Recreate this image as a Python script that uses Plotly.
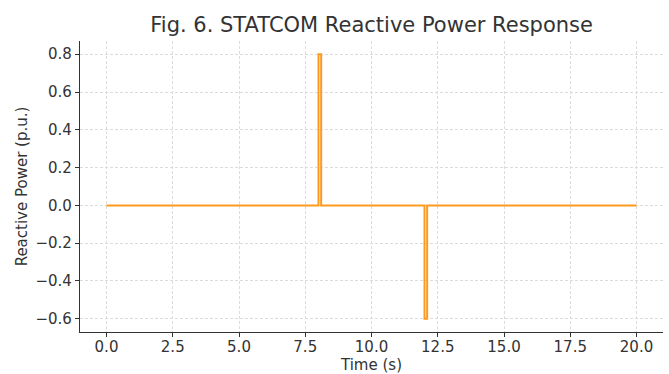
import plotly.graph_objects as go

time_s = [0.0, 8.0, 8.1, 12.0, 12.1, 20.0]
q_pu = [0.0, 0.8, 0.0, -0.6, 0.0, 0.0]
x_ticks = [0.0, 2.5, 5.0, 7.5, 10.0, 12.5, 15.0, 17.5, 20.0]
x_labels = ["0.0", "2.5", "5.0", "7.5", "10.0", "12.5", "15.0", "17.5", "20.0"]
y_ticks = [-0.6, -0.4, -0.2, 0.0, 0.2, 0.4, 0.6, 0.8]
y_labels = ["\u22120.6", "\u22120.4", "\u22120.2", "0.0", "0.2", "0.4", "0.6", "0.8"]

font = "DejaVu Sans, sans-serif"
fig = go.Figure(go.Scatter(x=time_s, y=q_pu, mode="lines", line_shape="hv",
                           line=dict(color="#ff9a1f", width=2)))
fig.update_layout(
    width=669, height=374,
    margin=dict(l=80, r=6, t=41, b=42),
    paper_bgcolor="white", plot_bgcolor="white",
    font=dict(family=font, color="#333333", size=15),
    title=dict(text="Fig. 6. STATCOM Reactive Power Response", x=0.5555, xanchor="center",
               y=0.935, yanchor="middle", font=dict(size=21, color="#333333")),
    showlegend=False,
)
axis_common = dict(showline=True, linecolor="#333333", linewidth=1.2, ticks="outside",
                   ticklen=4, tickcolor="#333333", gridcolor="#dcdcdc", griddash="3px,2px",
                   gridwidth=0.8, zeroline=False, mirror=False, automargin=False,
                   tickfont=dict(size=15, color="#333333"))
fig.update_xaxes(range=[-1, 21], tickvals=x_ticks, ticktext=x_labels, ticklabelstandoff=-3,
                 title=dict(text="Time (s)", font=dict(size=15), standoff=2), **axis_common)
fig.update_yaxes(range=[-0.67, 0.87], tickvals=y_ticks, ticktext=y_labels,
                 title=dict(text="Reactive Power (p.u.)", font=dict(size=15), standoff=4), **axis_common)
fig.write_html("out.html")
